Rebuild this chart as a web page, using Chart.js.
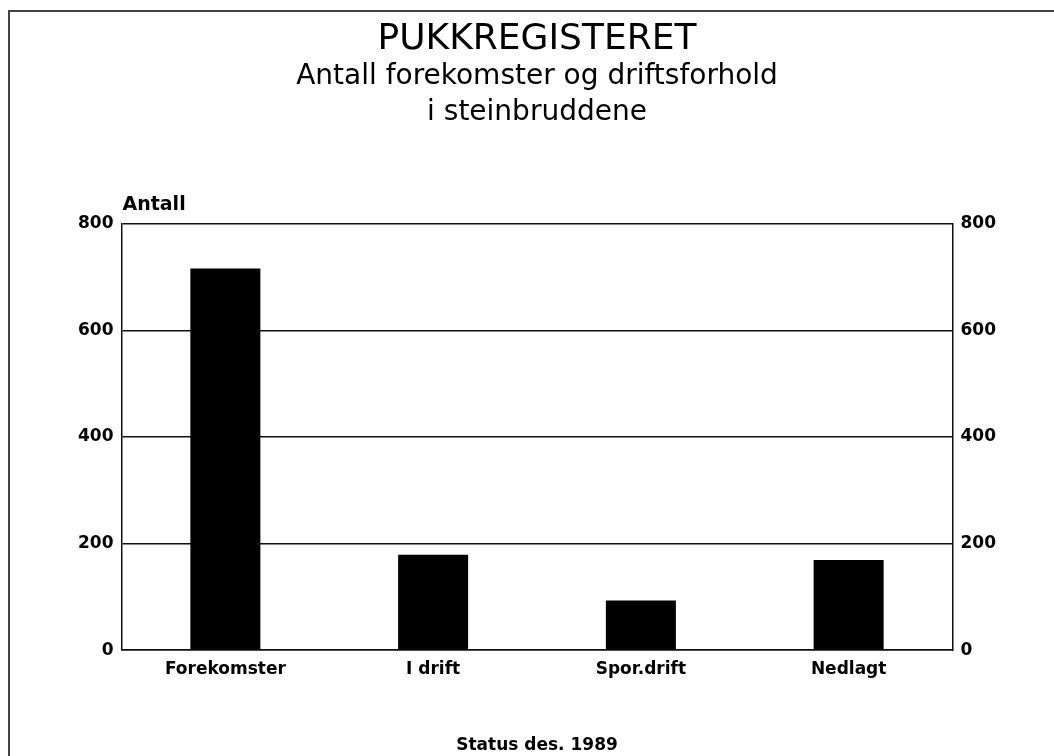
<!DOCTYPE html>
<html>
<head>
<meta charset="utf-8">
<script src="https://cdn.jsdelivr.net/npm/chart.js@4"></script>
<style>
  html, body { margin: 0; padding: 0; background: #fff; }
  #wrap { position: relative; width: 1054px; height: 756px; }
  #frame {
    position: absolute; left: 8px; top: 10px; right: 0; bottom: 0;
    border-left: 2px solid #444; border-top: 2px solid #444; pointer-events: none;
  }
</style>
</head>
<body>
<div id="wrap">
  <canvas id="pukkChart" width="1054" height="756"></canvas>
  <div id="frame"></div>
</div>
<script>
// values (status des. 1989)
const categories = ["Forekomster", "I drift", "Spor.drift", "Nedlagt"];
const antall = [716, 179, 93, 169];
const yTicks = [0, 200, 400, 600, 800];

const FONT = "'DejaVu Sans', sans-serif";

// "Antall" sits above the left axis
const axisLabel = {
  id: "axisLabel",
  afterDraw(chart) {
    const { ctx, chartArea } = chart;
    ctx.save();
    ctx.font = "bold 19px " + FONT;
    ctx.fillStyle = "#000";
    ctx.textAlign = "left";
    ctx.textBaseline = "alphabetic";
    ctx.fillText("Antall", chartArea.left + 1, chartArea.top - 14);
    ctx.restore();
  }
};

const gridOpts = { color: "#111", lineWidth: 1.5, drawTicks: false };
const tickFont = { family: FONT, size: 17, weight: "bold" };

new Chart(document.getElementById("pukkChart"), {
  type: "bar",
  data: {
    labels: categories,
    datasets: [{
      data: antall,
      backgroundColor: "#000",
      borderWidth: 0,
      barPercentage: 1,
      categoryPercentage: 0.337
    }]
  },
  options: {
    responsive: false,
    animation: false,
    layout: { padding: { left: 70, right: 50, top: 0, bottom: 0 } },
    plugins: {
      legend: { display: false },
      tooltip: { enabled: false },
      title: {
        display: true,
        text: "PUKKREGISTERET",
        color: "#000",
        font: { family: FONT, size: 36, weight: "normal", lineHeight: 1 },
        padding: { top: 22, bottom: 1 }
      },
      subtitle: {
        display: true,
        text: ["Antall forekomster og driftsforhold", "i steinbruddene"],
        color: "#000",
        font: { family: FONT, size: 28, weight: "normal", lineHeight: 1.28 },
        padding: { top: 0, bottom: 93 }
      }
    },
    scales: {
      x: {
        grid: { display: false, drawTicks: false },
        border: { display: true, color: "#111", width: 1.5 },
        ticks: { color: "#000", font: tickFont, padding: 9 },
        title: {
          display: true,
          text: "Status des. 1989",
          color: "#000",
          font: tickFont,
          padding: { top: 47, bottom: 0 }
        }
      },
      y: {
        min: 0,
        max: 800,
        afterBuildTicks(axis) { axis.ticks = yTicks.map(v => ({ value: v })); },
        grid: gridOpts,
        border: { display: true, color: "#111", width: 1.5 },
        ticks: { color: "#000", font: tickFont, padding: 8 }
      },
      y2: {
        position: "right",
        min: 0,
        max: 800,
        afterBuildTicks(axis) { axis.ticks = yTicks.map(v => ({ value: v })); },
        grid: { display: false, drawTicks: false },
        border: { display: true, color: "#111", width: 1.5 },
        ticks: { color: "#000", font: tickFont, padding: 8 }
      }
    }
  },
  plugins: [axisLabel]
});
</script>
</body>
</html>
